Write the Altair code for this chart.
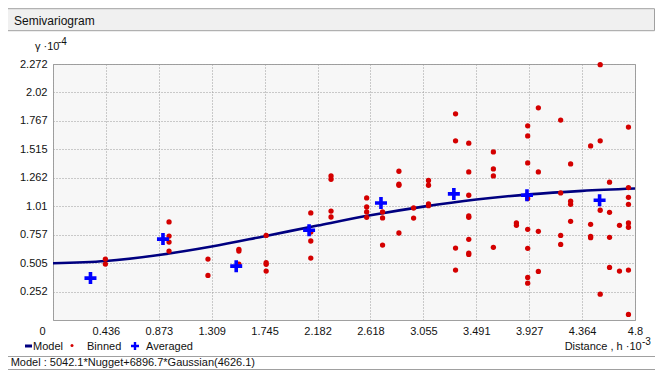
import altair as alt
import pandas as pd

FONT = "Liberation Sans"
TXT = "#111111"

# ---- data ----
x_ticks = [0, 0.436, 0.873, 1.309, 1.745, 2.182, 2.618, 3.055, 3.491, 3.927, 4.364, 4.8]
y_ticks = [0.252, 0.505, 0.757, 1.01, 1.262, 1.515, 1.767, 2.02, 2.272]

model_h = [0, 0.436, 0.873, 1.309, 1.745, 2.182, 2.618, 3.055, 3.491, 3.927, 4.364, 4.8]
model_gamma = [0.504, 0.524, 0.577, 0.652, 0.744, 0.838, 0.929, 1.006, 1.069, 1.115, 1.146, 1.167]

avg_h = [0.309, 0.907, 1.511, 2.112, 2.705, 3.306, 3.909, 4.508]
avg_gamma = [0.372, 0.718, 0.478, 0.796, 1.039, 1.119, 1.107, 1.063]

binned_lags = [0.432, 0.957, 1.278, 1.533, 1.758, 2.126, 2.293, 2.587, 2.718, 2.853,
               2.974, 3.097, 3.320, 3.429, 3.632, 3.822, 3.915, 4.003, 4.187, 4.269,
               4.434, 4.513, 4.590, 4.672, 4.746]
binned_values = [
    [0.541, 0.496],
    [0.870, 0.745, 0.692, 0.612],
    [0.541, 0.396],
    [0.627, 0.612, 0.496],
    [0.751, 0.509, 0.494, 0.434],
    [0.950, 0.781, 0.701, 0.550],
    [1.279, 1.249, 0.967, 0.914],
    [1.083, 1.003, 0.959, 0.911],
    [0.959, 0.906, 0.665],
    [1.320, 1.205, 1.196, 0.772],
    [0.994, 0.905],
    [1.238, 1.196, 1.030, 1.015],
    [1.830, 1.590, 0.638, 0.443],
    [1.569, 1.314, 1.107, 0.923, 0.911, 0.716, 0.594, 0.582],
    [1.492, 1.341, 1.279, 0.645],
    [0.861, 0.840],
    [1.723, 1.634, 1.394, 1.078, 0.805, 0.636, 0.378, 0.327],
    [1.883, 1.314, 0.787, 0.431],
    [1.774, 1.128, 0.751, 0.671],
    [1.385, 1.054, 1.027, 0.876],
    [1.545, 0.849, 0.742, 0.731],
    [2.266, 1.590, 0.974, 0.229],
    [1.223, 0.956, 0.734, 0.467],
    [0.840, 0.434],
    [1.712, 1.175, 1.089, 1.027, 0.861, 0.823, 0.443, 0.049],
]

title_text = "Semivariogram"
model_text = "Model : 5042.1*Nugget+6896.7*Gaussian(4626.1)"

# ---- tables ----
model_df = pd.DataFrame({"h": model_h, "gamma": model_gamma})
avg_df = pd.DataFrame({"h": avg_h, "gamma": avg_gamma})
rows = []
for lag, vals in zip(binned_lags, binned_values):
    for v in vals:
        rows.append({"h": lag, "gamma": v})
binned_df = pd.DataFrame(rows)

W, H = 582, 256
xs = alt.Scale(domain=[0, 4.8], nice=False, zero=False)
ys = alt.Scale(domain=[0, 2.272], nice=False, zero=False)

x_axis = alt.Axis(values=x_ticks, format=".4~g", title=None, ticks=False, tickSize=0,
                  domain=False, grid=True, gridColor="#9a9a9a", gridDash=[1, 2],
                  labelFont=FONT, labelFontSize=11, labelColor=TXT, labelPadding=5,
                  labelFlush=False, labelOverlap=False, labelBound=False,
                  labelOffset={"condition": {"test": "datum.value == 0", "value": -11}, "value": 0})
y_axis = alt.Axis(values=y_ticks, format=".4~g", title=None, ticks=False, tickSize=0,
                  domain=False, grid=True, gridColor="#9a9a9a", gridDash=[1, 2],
                  labelFont=FONT, labelFontSize=11, labelColor=TXT, labelPadding=6,
                  labelFlush=False, labelOverlap=False, labelBound=False)

X = alt.X("h:Q", scale=xs, axis=x_axis)
Y = alt.Y("gamma:Q", scale=ys, axis=y_axis)

line = alt.Chart(model_df).mark_line(color="#000080", strokeWidth=2.6, interpolate="monotone").encode(
    x=X, y=Y)

binned = alt.Chart(binned_df).mark_point(shape="circle", filled=True, size=28, color="#d40000", opacity=1).encode(
    x=X, y=Y)

CROSS = "M-1,-0.3H-0.3V-1H0.3V-0.3H1V0.3H0.3V1H-0.3V0.3H-1Z"
averaged = alt.Chart(avg_df).mark_point(shape=CROSS, filled=True, size=144, color="#0000ff",
                                        opacity=1, strokeWidth=0).encode(x=X, y=Y)

one = alt.Data(values=[{"a": 1}])


def txt(text, x, y, size=11, align="left", color=TXT):
    return alt.Chart(one).mark_text(text=text, font=FONT, fontSize=size, align=align,
                                    baseline="middle", color=color).encode(
        x=alt.value(x), y=alt.value(y))


header = alt.Chart(one).mark_rect(fill="#f0f0f0", stroke="#a0a0a0", strokeWidth=1).encode(
    x=alt.value(-45.5), x2=alt.value(601.5), y=alt.value(-55.3), y2=alt.value(-33.3))
left_border = alt.Chart(one).mark_rule(color="#a0a0a0", strokeWidth=1).encode(
    x=alt.value(-45.5), y=alt.value(-55.3), y2=alt.value(305.5))
row_top = alt.Chart(one).mark_rule(color="#a0a0a0", strokeWidth=1).encode(
    x=alt.value(-45.5), x2=alt.value(602), y=alt.value(292.5))
row_bottom = alt.Chart(one).mark_rule(color="#a0a0a0", strokeWidth=1).encode(
    x=alt.value(-45.5), x2=alt.value(602), y=alt.value(305.5))

leg_line = alt.Chart(one).mark_rule(color="#000080", strokeWidth=3).encode(
    x=alt.value(-28), x2=alt.value(-21), y=alt.value(282))
leg_dot = alt.Chart(one).mark_point(shape="circle", filled=True, size=9, color="#d40000", opacity=1).encode(
    x=alt.value(19), y=alt.value(281.5))
leg_cross = alt.Chart(one).mark_point(shape=CROSS, filled=True, size=64, color="#0000ff",
                                      opacity=1, strokeWidth=0).encode(
    x=alt.value(82), y=alt.value(282))

layers = [
    header, left_border, row_top, row_bottom,
    line, binned, averaged,
    txt(title_text, -39, -43.3, size=12),
    txt("γ ·10", -18, -17, size=11),
    txt("-4", 5, -22.5, size=10),
    leg_line, txt("Model", -20, 282.5), leg_dot, txt("Binned", 34, 282.5),
    leg_cross, txt("Averaged", 93, 282.5),
    txt("Distance , h ·10", 588.7, 282.7, align="right"),
    txt("-3", 588.9, 278.2, size=10),
    txt(model_text, -42.3, 299.2, size=11),
]

chart = alt.layer(*layers).properties(
    width=W, height=H,
    autosize=alt.AutoSizeParams(type="none"),
    padding={"left": 45, "top": 56, "right": 20, "bottom": 51},
    background="white",
).configure_view(fill="#f7f7f7", stroke="#a0a0a0", strokeWidth=1)

chart.save("out.html", embed_options={"renderer": "svg", "actions": False})
